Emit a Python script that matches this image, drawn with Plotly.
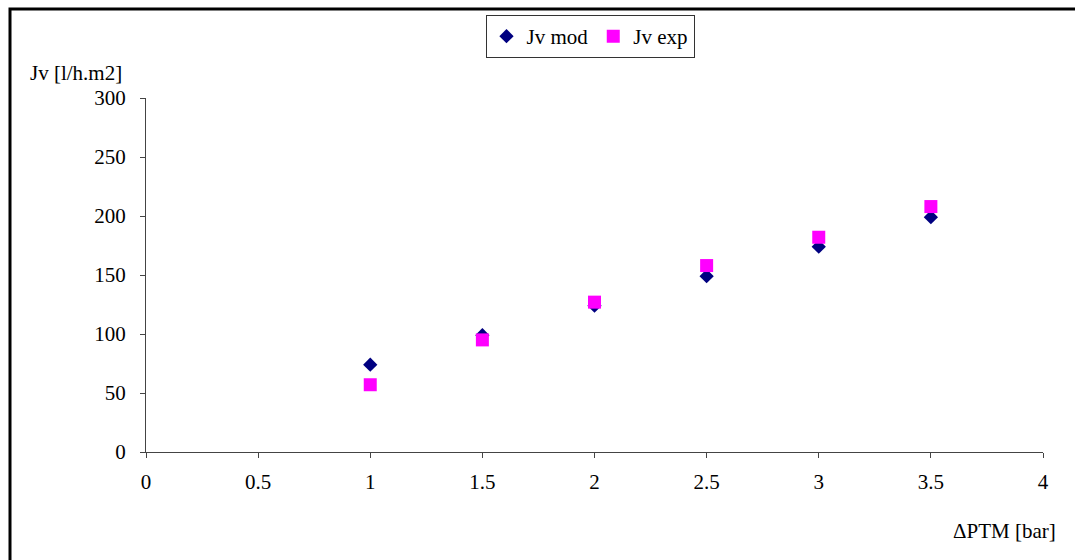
import plotly.graph_objects as go

x_vals = [1, 1.5, 2, 2.5, 3, 3.5]
jv_mod = [74, 99, 124, 149, 174, 199]
jv_exp = [57, 95, 127, 158, 182, 208]
x_ticks = [0, 0.5, 1, 1.5, 2, 2.5, 3, 3.5, 4]
x_tick_labels = ["0", "0.5", "1", "1.5", "2", "2.5", "3", "3.5", "4"]
y_ticks = [0, 50, 100, 150, 200, 250, 300]

FONT = "Liberation Serif"
W, H = 1075, 560
L, R, T, B = 146, 32, 98, 108
pw, ph = W - L - R, H - T - B

def px_x(p):
    return (p - L) / pw

def px_y(p):
    return (H - B - p) / ph

fig = go.Figure()
fig.add_trace(go.Scatter(x=x_vals, y=jv_mod, mode="markers", name="Jv mod",
                         marker=dict(symbol="diamond", size=11, color="#000080")))
fig.add_trace(go.Scatter(x=x_vals, y=jv_exp, mode="markers", name="Jv exp",
                         marker=dict(symbol="square", size=13, color="#FF00FF")))

fig.update_layout(
    width=W, height=H,
    margin=dict(l=L, r=R, t=T, b=B),
    paper_bgcolor="white", plot_bgcolor="white",
    font=dict(family=FONT, size=21, color="black"),
    showlegend=True,
    legend=dict(orientation="h", x=px_x(590), xanchor="center", y=px_y(15), yanchor="top",
                bordercolor="#333333", borderwidth=1, bgcolor="white",
                font=dict(family=FONT, size=21), tracegroupgap=0),
    xaxis=dict(range=[0, 4], tickmode="array", tickvals=x_ticks, ticktext=x_tick_labels,
               showgrid=False, zeroline=False, showline=True, linecolor="#444444", linewidth=1,
               ticks="outside", ticklen=5, tickcolor="#444444", ticklabelstandoff=6,
               tickfont=dict(family=FONT, size=21)),
    yaxis=dict(range=[0, 300], tickmode="array", tickvals=y_ticks,
               showgrid=False, zeroline=False, showline=True, linecolor="#444444", linewidth=1,
               ticks="outside", ticklen=5, tickcolor="#444444", ticklabelstandoff=10,
               tickfont=dict(family=FONT, size=21)),
    annotations=[
        dict(text="Jv [l/h.m2]", xref="paper", yref="paper", x=px_x(28), y=px_y(73),
             xanchor="left", yanchor="middle", showarrow=False, font=dict(family=FONT, size=21)),
        dict(text="ΔPTM [bar]", xref="paper", yref="paper", x=px_x(1058), y=px_y(531),
             xanchor="right", yanchor="middle", showarrow=False, font=dict(family=FONT, size=21)),
    ],
    shapes=[
        dict(type="rect", xref="paper", yref="paper", x0=px_x(10), y0=px_y(700), x1=px_x(1300), y1=px_y(9),
             line=dict(color="black", width=3), fillcolor="rgba(0,0,0,0)", layer="below"),
    ],
)

fig.write_html("out.html")
